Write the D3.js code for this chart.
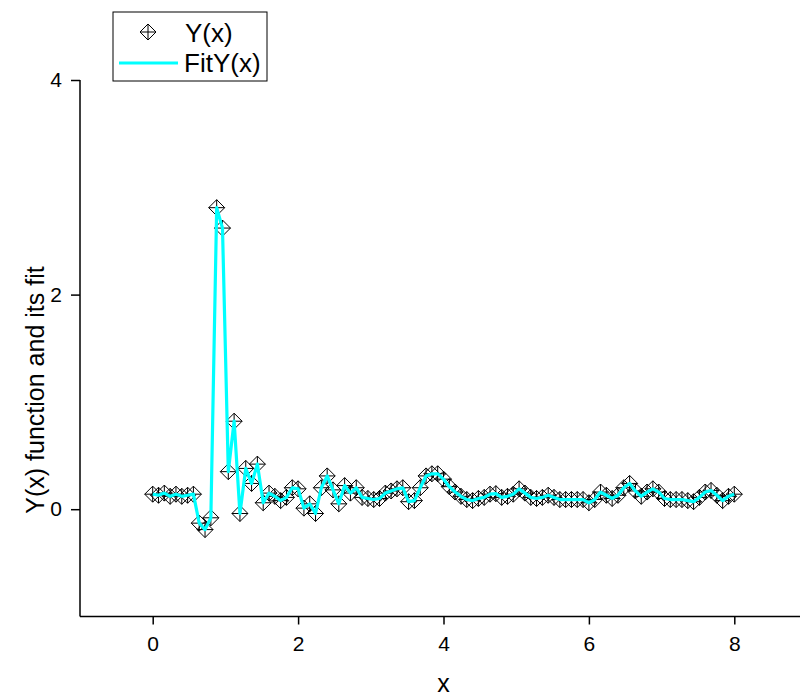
<!DOCTYPE html>
<html>
<head>
<meta charset="utf-8">
<script src="https://cdn.jsdelivr.net/npm/d3@7"></script>
<style>
  body { margin: 0; background: #fff; }
  text { font-family: "Liberation Sans", Arial, sans-serif; fill: #000; }
  .tick text { font-size: 21px; }
</style>
</head>
<body>
<svg id="chart"></svg>
<script>
// sampled x positions
var xValues = [
  0, 0.08, 0.16, 0.24, 0.32, 0.4, 0.48, 0.56, 0.64, 0.72,
  0.8, 0.88, 0.96, 1.04, 1.12, 1.2, 1.28, 1.36, 1.44, 1.52,
  1.6, 1.68, 1.76, 1.84, 1.92, 2, 2.08, 2.16, 2.24, 2.32,
  2.4, 2.48, 2.56, 2.64, 2.72, 2.8, 2.88, 2.96, 3.04, 3.12,
  3.2, 3.28, 3.36, 3.44, 3.52, 3.6, 3.68, 3.76, 3.84, 3.92,
  4, 4.08, 4.16, 4.24, 4.32, 4.4, 4.48, 4.56, 4.64, 4.72,
  4.8, 4.88, 4.96, 5.04, 5.12, 5.2, 5.28, 5.36, 5.44, 5.52,
  5.6, 5.68, 5.76, 5.84, 5.92, 6, 6.08, 6.16, 6.24, 6.32,
  6.4, 6.48, 6.56, 6.64, 6.72, 6.8, 6.88, 6.96, 7.04, 7.12,
  7.2, 7.28, 7.36, 7.44, 7.52, 7.6, 7.68, 7.76, 7.84, 7.92, 8
];
// Y(x)
var yValues = [
  0.14, 0.13, 0.15, 0.12, 0.14, 0.12, 0.13, 0.14, -0.13, -0.19,
  -0.08, 2.81, 2.62, 0.35, 0.82, -0.04, 0.38, 0.24, 0.42, 0.06,
  0.15, 0.12, 0.08, 0.11, 0.2, 0.19, 0.01, 0.05, -0.04, 0.2,
  0.31, 0.18, 0.05, 0.22, 0.15, 0.2, 0.11, 0.1, 0.09, 0.1,
  0.15, 0.17, 0.19, 0.2, 0.07, 0.08, 0.2, 0.31, 0.33, 0.33,
  0.28, 0.21, 0.16, 0.12, 0.09, 0.08, 0.1, 0.11, 0.14, 0.145,
  0.11, 0.12, 0.14, 0.19, 0.15, 0.11, 0.1, 0.11, 0.13, 0.11,
  0.09, 0.09, 0.09, 0.09, 0.09, 0.06, 0.09, 0.16, 0.13, 0.1,
  0.13, 0.2, 0.24, 0.17, 0.12, 0.16, 0.19, 0.16, 0.1, 0.09,
  0.09, 0.09, 0.08, 0.07, 0.11, 0.16, 0.175, 0.13, 0.08, 0.12, 0.14
];
// the fit goes through every point
var fitValues = yValues.slice();

var xMajor = [0, 2, 4, 6, 8];
var xMinor = [-1, 1, 3, 5, 7, 9];
var yMajor = [0, 2, 4];
var yMinor = [-1, 1, 3];

var width = 800;
var height = 697;

var svg = d3.select("#chart").attr("width", width).attr("height", height);

var xScale = d3.scaleLinear().domain([-1, 9]).range([80, 807]);
var yScale = d3.scaleLinear().domain([-1, 4]).range([616.5, 80]);

/* axes */
var xAxisG = svg.append("g").attr("transform", "translate(0," + yScale(-1) + ")");
xAxisG.call(d3.axisBottom(xScale).tickValues(xMinor).tickSize(5).tickFormat(""));
xAxisG.call(d3.axisBottom(xScale).tickValues(xMajor).tickSize(8).tickPadding(12).tickFormat(d3.format("d")));
xAxisG.selectAll(".domain").remove();
xAxisG.append("line")
  .attr("x1", xScale(-1)).attr("x2", width)
  .attr("stroke", "#000").attr("stroke-width", 1.5);

var yAxisG = svg.append("g").attr("transform", "translate(" + xScale(-1) + ",0)");
yAxisG.call(d3.axisLeft(yScale).tickValues(yMinor).tickSize(5).tickFormat(""));
yAxisG.call(d3.axisLeft(yScale).tickValues(yMajor).tickSize(9).tickPadding(9).tickFormat(d3.format("d")));
yAxisG.selectAll(".domain").remove();
yAxisG.append("line")
  .attr("y1", yScale(4)).attr("y2", yScale(-1))
  .attr("stroke", "#000").attr("stroke-width", 1.5);

xAxisG.attr("font-size", null).attr("font-family", null);
yAxisG.attr("font-size", null).attr("font-family", null);
svg.selectAll(".tick line").attr("stroke", "#000").attr("stroke-width", 1.5);
svg.selectAll(".tick text").attr("fill", "#000").style("font-size", "21px");

/* axis titles */
svg.append("text")
  .attr("x", xScale(4)).attr("y", 692)
  .attr("text-anchor", "middle")
  .style("font-size", "25px")
  .text("x");

svg.append("text")
  .attr("transform", "translate(35,390) rotate(-90)")
  .attr("text-anchor", "middle")
  .attr("dominant-baseline", "central")
  .style("font-size", "25px")
  .text("Y(x) function and its fit");

/* markers */
var r = 8;
var diamond = "M0," + -r + "L" + r + ",0L0," + r + "L" + -r + ",0Z" +
  "M0," + -r + "L0," + r + "M" + -r + ",0L" + r + ",0";

var pts = xValues.map(function (x, i) { return [x, yValues[i]]; });

svg.append("g")
  .selectAll("path")
  .data(pts)
  .enter()
  .append("path")
  .attr("d", diamond)
  .attr("transform", function (d) {
    return "translate(" + xScale(d[0]) + "," + yScale(d[1]) + ")";
  })
  .attr("fill", "none")
  .attr("stroke", "#000")
  .attr("stroke-width", 1);

/* fit line */
var line = d3.line()
  .x(function (d, i) { return xScale(xValues[i]); })
  .y(function (d) { return yScale(d); });

svg.append("path")
  .datum(fitValues)
  .attr("d", line)
  .attr("fill", "none")
  .attr("stroke", "#00ffff")
  .attr("stroke-width", 3.2)
  .attr("stroke-linejoin", "round");

/* legend */
var legend = svg.append("g");
legend.append("rect")
  .attr("x", 113).attr("y", 12).attr("width", 154).attr("height", 69)
  .attr("fill", "#fff").attr("stroke", "#000").attr("stroke-width", 1);
legend.append("path")
  .attr("d", diamond)
  .attr("transform", "translate(148,32)")
  .attr("fill", "none").attr("stroke", "#000").attr("stroke-width", 1);
legend.append("text")
  .attr("x", 185).attr("y", 33)
  .attr("dominant-baseline", "central")
  .style("font-size", "26px")
  .text("Y(x)");
legend.append("line")
  .attr("x1", 119).attr("x2", 178).attr("y1", 63).attr("y2", 63)
  .attr("stroke", "#00ffff").attr("stroke-width", 3.2);
legend.append("text")
  .attr("x", 184).attr("y", 63)
  .attr("dominant-baseline", "central")
  .style("font-size", "26px")
  .text("FitY(x)");
</script>
</body>
</html>
